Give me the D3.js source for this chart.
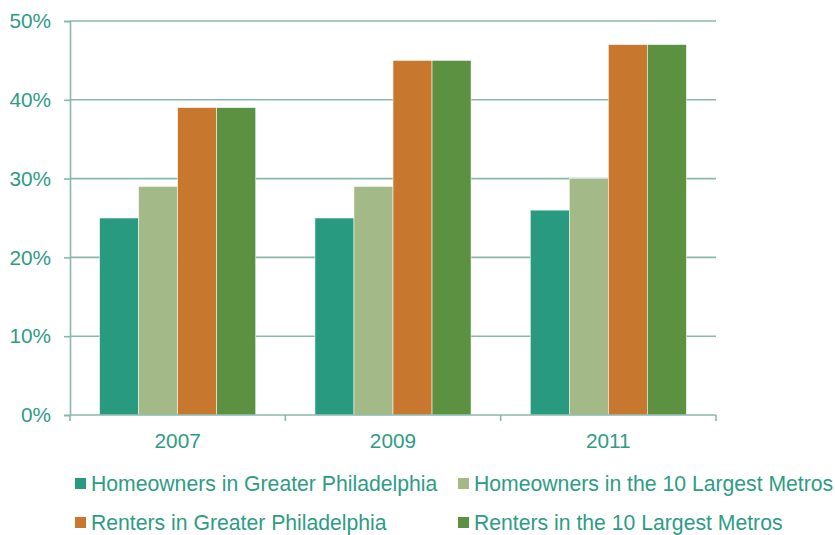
<!DOCTYPE html>
<html>
<head>
<meta charset="utf-8">
<script src="https://cdn.jsdelivr.net/npm/d3@7"></script>
<style>
  body { margin: 0; background: #fff; }
  svg text { font-family: "Liberation Sans", Arial, sans-serif; fill: #2E9C85; }
</style>
</head>
<body>
<div id="chart"></div>
<script>
// chart data
const years = ["2007", "2009", "2011"];
const seriesNames = [
    "Homeowners in Greater Philadelphia",
    "Homeowners in the 10 Largest Metros",
    "Renters in Greater Philadelphia",
    "Renters in the 10 Largest Metros"
];
const ownersPhilly = [25, 25, 26];
const ownersMetros = [29, 29, 30];
const rentersPhilly = [39, 45, 47];
const rentersMetros = [39, 45, 47];
const yTicks = [0, 10, 20, 30, 40, 50];

const colors = ["#289A80", "#A3B987", "#C8772E", "#5C9142"];
const seriesValues = [ownersPhilly, ownersMetros, rentersPhilly, rentersMetros];
const gridColor = "#88B8AB";

let frame = { width: 835, height: 535 },
    plot = { left: 70, right: 716, top: 21, bottom: 415 };

let svg = d3.select("#chart").append("svg")
    .attr("width", frame.width)
    .attr("height", frame.height);

// scales
let x = d3.scaleBand()
    .domain(years)
    .range([plot.left, plot.right])
    .paddingInner(0.275)
    .paddingOuter(0.1375);

let xSeries = d3.scaleBand()
    .domain(d3.range(seriesNames.length))
    .range([0, x.bandwidth()]);

let y = d3.scaleLinear()
    .domain([0, 50])
    .range([plot.bottom, plot.top]);

// gridlines
svg.append("g")
    .selectAll("line")
    .data(yTicks.filter(d => d > 0))
    .join("line")
    .attr("x1", plot.left)
    .attr("x2", plot.right)
    .attr("y1", d => y(d))
    .attr("y2", d => y(d))
    .attr("stroke", gridColor)
    .attr("stroke-width", 1.6);

// bars
let groups = svg.append("g")
    .selectAll("g")
    .data(years)
    .join("g")
    .attr("transform", d => "translate(" + x(d) + ",0)");

groups.selectAll("rect")
    .data((d, i) => seriesValues.map((s, k) => ({ k: k, v: s[i] })))
    .join("rect")
    .attr("x", d => xSeries(d.k))
    .attr("width", xSeries.bandwidth())
    .attr("y", d => y(d.v))
    .attr("height", d => y(0) - y(d.v))
    .attr("fill", d => colors[d.k])
    .attr("stroke", "#f4f7f0")
    .attr("stroke-width", 0.6);

// y axis
let yAxis = svg.append("g")
    .attr("transform", "translate(" + plot.left + ",0)")
    .call(d3.axisLeft(y).tickValues(yTicks).tickFormat(d => d + "%").tickSizeOuter(0).tickSize(6).tickPadding(13));
yAxis.select(".domain").attr("stroke", gridColor).attr("stroke-width", 1.6);
yAxis.selectAll(".tick line").attr("stroke", gridColor).attr("stroke-width", 1.6);
yAxis.selectAll("text").style("font-size", "20.8px").attr("fill", "#2E9C85");

// x axis
let xEdges = years.map(d => x(d) - x.step() * x.paddingInner() / 2).concat([plot.right]);
let xAxis = svg.append("g");
xAxis.append("line")
    .attr("x1", plot.left)
    .attr("x2", plot.right)
    .attr("y1", plot.bottom)
    .attr("y2", plot.bottom)
    .attr("stroke", gridColor)
    .attr("stroke-width", 1.6);
xAxis.selectAll(".xtick")
    .data(xEdges)
    .join("line")
    .attr("class", "xtick")
    .attr("x1", d => d)
    .attr("x2", d => d)
    .attr("y1", plot.bottom)
    .attr("y2", plot.bottom + 6)
    .attr("stroke", gridColor)
    .attr("stroke-width", 1.6);
xAxis.selectAll("text")
    .data(years)
    .join("text")
    .attr("x", d => x(d) + x.bandwidth() / 2)
    .attr("y", plot.bottom + 33)
    .attr("text-anchor", "middle")
    .style("font-size", "20.8px")
    .text(d => d);

// legend
let legendPos = [
    { x: 75, y: 478 }, { x: 458, y: 478 },
    { x: 75, y: 517 }, { x: 458, y: 517 }
];
let legend = svg.append("g")
    .selectAll("g")
    .data(seriesNames)
    .join("g")
    .attr("transform", (d, i) => "translate(" + legendPos[i].x + "," + legendPos[i].y + ")");
legend.append("rect")
    .attr("width", 11)
    .attr("height", 11)
    .attr("fill", (d, i) => colors[i]);
legend.append("text")
    .attr("x", 16)
    .attr("y", 12.5)
    .style("font-size", "21.2px")
    .text(d => d);
</script>
</body>
</html>
